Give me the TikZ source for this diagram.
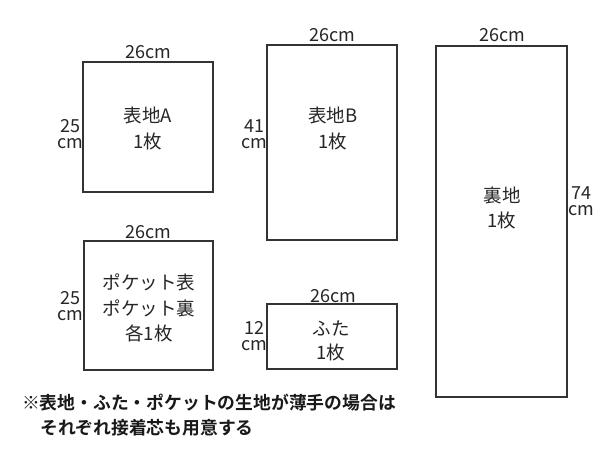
\documentclass[tikz,border=0pt]{standalone}
\usepackage{fontspec}
\setmainfont{Noto Sans CJK JP}[BoldFont={Noto Sans CJK JP Bold}]
\begin{document}
\begin{tikzpicture}[x=1pt,y=-1pt,
  piece/.style={draw=black!80,line width=1.2pt},
  lbl/.style={text=black!85,font=\fontsize{18.5}{20}\selectfont,inner sep=0pt},
  dim/.style={text=black!85,font=\fontsize{18}{20}\selectfont,inner sep=0pt},
  side/.style={text=black!85,font=\fontsize{18}{16}\selectfont,inner sep=0pt,align=center},
  note/.style={text=black!90,font=\fontsize{17.8}{20}\selectfont\bfseries,inner sep=0pt,anchor=west}]
\useasboundingbox[fill=white] (0,0) rectangle (600,450);
% pieces
\draw[piece] (83,62) rectangle (213,192);
\draw[piece] (267,45) rectangle (397,240);
\draw[piece] (84,241) rectangle (213,370);
\draw[piece] (267,304) rectangle (397,369);
\draw[piece] (436,46) rectangle (567,397);
% interior texts
\node[lbl] (a1) at (148,115) {表地A};
\node[lbl] (a2) at (148,141) {1枚};
\node[lbl] (b1) at (333,115) {表地B};
\node[lbl] (b2) at (333,141) {1枚};
\node[lbl] (p1) at (149,282) {ポケット表};
\node[lbl] (p2) at (149,308) {ポケット裏};
\node[lbl] (p3) at (149,333) {各1枚};
\node[lbl] (f1) at (331,328) {ふた};
\node[lbl] (f2) at (331,352) {1枚};
\node[lbl] (u1) at (502,195) {裏地};
\node[lbl] (u2) at (502,220) {1枚};
% width labels
\node[dim] (wa) at (148,52) {26cm};
\node[dim] (wb) at (332,35) {26cm};
\node[dim] (wp) at (148,232) {26cm};
\node[dim] (wf) at (333,296) {26cm};
\node[dim] (wu) at (502,35) {26cm};
% side labels
\node[side] (ha) at (70,134) {25\\cm};
\node[side] (hb) at (254,134) {41\\cm};
\node[side] (hp) at (70,306) {25\\cm};
\node[side] (hf) at (254,336) {12\\cm};
\node[side] (hu) at (581,201) {74\\cm};
% note
\node[note] (n1) at (22,403) {※表地・ふた・ポケットの生地が薄手の場合は};
\node[note] (n2) at (40,428) {それぞれ接着芯も用意する};
\end{tikzpicture}
\end{document}
